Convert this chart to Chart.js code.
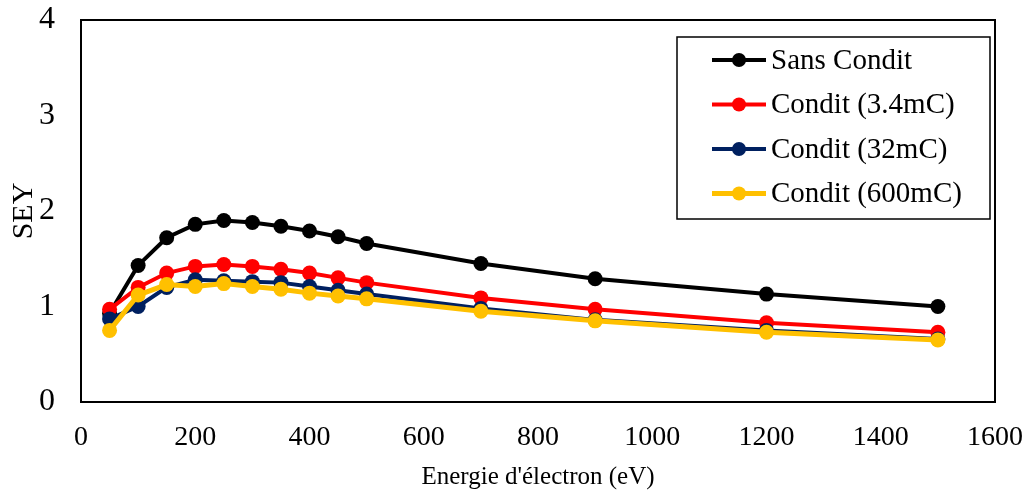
<!DOCTYPE html>
<html>
<head>
<meta charset="utf-8">
<script src="https://cdn.jsdelivr.net/npm/chart.js@4"></script>
<style>
  body { margin: 0; background: #fff; }
</style>
</head>
<body>
<canvas id="sey" width="1027" height="492"></canvas>
<script>
/*===== DATA =====*/

const energies = [50, 100, 150, 200, 250, 300, 350, 400, 450, 500, 700, 900, 1200, 1500];
const sansCondit = [0.93, 1.43, 1.72, 1.86, 1.90, 1.88, 1.84, 1.79, 1.73, 1.66, 1.45, 1.29, 1.13, 1.00];
const condit34 = [0.97, 1.20, 1.35, 1.42, 1.44, 1.42, 1.39, 1.35, 1.30, 1.25, 1.09, 0.97, 0.83, 0.73];
const condit32 = [0.87, 1.00, 1.20, 1.28, 1.27, 1.26, 1.25, 1.21, 1.17, 1.13, 0.98, 0.86, 0.75, 0.66];
const condit600 = [0.75, 1.12, 1.23, 1.21, 1.24, 1.21, 1.18, 1.14, 1.11, 1.08, 0.95, 0.85, 0.73, 0.65];
const seriesNames = ["Sans Condit", "Condit (3.4mC)", "Condit (32mC)", "Condit (600mC)"];
const seriesColors = ["#000000", "#ff0000", "#002060", "#ffc000"];

const serif = "'Liberation Serif', 'DejaVu Serif', serif";

var toPoints = function(values) {
    return values.map(function(v, i) { return { x: energies[i], y: v }; });
};

/*===== PLUGINS =====*/

// box around the plot area
const frame = {
    id: "frame",
    beforeDatasetsDraw(chart) {
        const a = chart.chartArea;
        const ctx = chart.ctx;
        ctx.save();
        ctx.strokeStyle = "#000";
        ctx.lineWidth = 2;
        ctx.strokeRect(a.left, a.top, a.right - a.left, a.bottom - a.top);
        ctx.restore();
    }
};

// legend box inside the plot, top right
const boxLegend = {
    id: "boxLegend",
    afterDraw(chart) {
        const a = chart.chartArea;
        const ctx = chart.ctx;
        const left = a.right - 318, top = a.top + 17;
        ctx.save();
        ctx.fillStyle = "#fff";
        ctx.fillRect(left, top, 313, 182);
        ctx.strokeStyle = "#000";
        ctx.lineWidth = 1.5;
        ctx.strokeRect(left, top, 313, 182);
        chart.data.datasets.forEach(function(ds, i) {
            const y = top + 23 + i * 44.5;
            ctx.strokeStyle = ds.borderColor;
            ctx.lineWidth = ds.borderWidth;
            ctx.beginPath();
            ctx.moveTo(left + 35, y);
            ctx.lineTo(left + 89, y);
            ctx.stroke();
            ctx.fillStyle = ds.pointBackgroundColor;
            ctx.beginPath();
            ctx.arc(left + 62, y, 7, 0, Math.PI * 2);
            ctx.fill();
            ctx.fillStyle = "#000";
            ctx.font = "29px " + serif;
            ctx.textBaseline = "middle";
            ctx.fillText(ds.label, left + 94, y + 1);
        });
        ctx.restore();
    }
};

/*===== CHART =====*/

const allValues = [sansCondit, condit34, condit32, condit600];
const widths = [4, 4, 4, 5];

new Chart("sey", {
    type: "line",
    data: {
        datasets: allValues.map(function(vals, i) {
            return {
                label: seriesNames[i],
                data: toPoints(vals),
                borderColor: seriesColors[i],
                backgroundColor: seriesColors[i],
                pointBackgroundColor: seriesColors[i],
                pointBorderColor: seriesColors[i],
                borderWidth: widths[i],
                pointRadius: 7.5,
                pointBorderWidth: 0,
                tension: 0,
                order: 4 - i
            };
        })
    },
    options: {
        responsive: false,
        animation: false,
        layout: { padding: { top: 20, right: 32 } },
        plugins: {
            legend: { display: false },
            tooltip: { enabled: false }
        },
        scales: {
            x: {
                type: "linear",
                min: 0,
                max: 1600,
                afterFit: function(s) {
                    s.height = 90;
                    s.paddingLeft = 0;
                    s.paddingRight = 0;
                },
                grid: { display: false, drawTicks: false },
                border: { display: false },
                ticks: {
                    stepSize: 200,
                    padding: 19,
                    color: "#000",
                    maxRotation: 0,
                    callback: function(v) { return String(v); },
                    font: { family: serif, size: 28 }
                },
                title: {
                    display: true,
                    text: "Energie d'électron (eV)",
                    color: "#000",
                    padding: { top: 0, bottom: 2 },
                    font: { family: serif, size: 25, lineHeight: 1 }
                }
            },
            y: {
                min: 0,
                max: 4,
                afterFit: function(s) {
                    s.width = 81;
                    s.paddingTop = 0;
                    s.paddingBottom = 0;
                },
                grid: { display: false, drawTicks: false },
                border: { display: false },
                ticks: {
                    stepSize: 1,
                    padding: 26,
                    color: "#000",
                    font: { family: serif, size: 32 }
                },
                title: {
                    display: true,
                    text: "SEY",
                    color: "#000",
                    padding: { top: 9, bottom: 0 },
                    font: { family: serif, size: 30, lineHeight: 1 }
                }
            }
        }
    },
    plugins: [frame, boxLegend]
});
</script>
</body>
</html>
